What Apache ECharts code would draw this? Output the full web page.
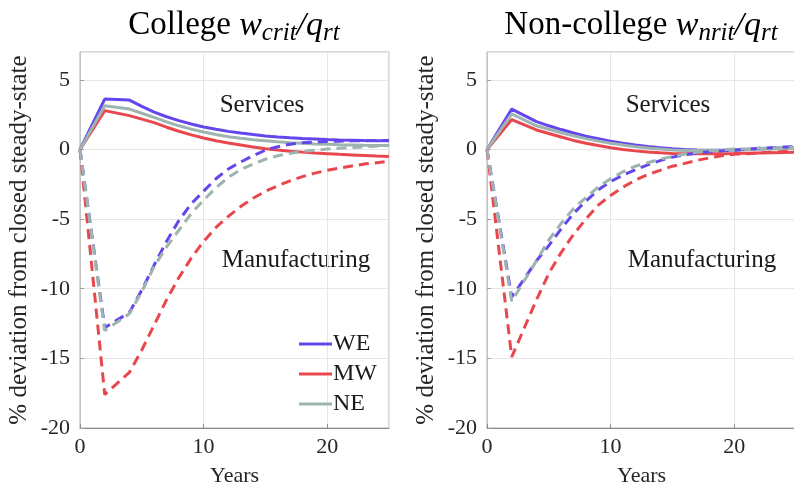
<!DOCTYPE html>
<html>
<head>
<meta charset="utf-8">
<script src="https://cdn.jsdelivr.net/npm/echarts@6/dist/echarts.min.js"></script>
<style>
  body { margin:0; background:#fff; }
  #chart { width:794px; height:487px; }
</style>
</head>
<body>
<div id="chart"></div>
<script>
  // years after opening
  var years = [0, 2, 4, 5, 6, 7, 8, 9, 10, 11, 12, 13, 14, 15, 16, 17, 18, 19, 20, 21, 22, 23, 24, 25]
  var regions = ['WE', 'MW', 'NE']

  // College w_crit/q_rt
  var colSerWE = [0, 3.62, 3.55, 3.1, 2.68, 2.35, 2.07, 1.83, 1.62, 1.45, 1.3, 1.18, 1.07, 0.97, 0.9, 0.84, 0.79, 0.75, 0.71, 0.68, 0.66, 0.64, 0.63, 0.62]
  var colSerMW = [0, 2.79, 2.43, 2.18, 1.93, 1.6, 1.31, 1.05, 0.83, 0.63, 0.46, 0.32, 0.18, 0.06, -0.04, -0.12, -0.19, -0.25, -0.3, -0.35, -0.39, -0.43, -0.47, -0.5]
  var colSerNE = [0, 3.14, 2.9, 2.6, 2.3, 1.98, 1.7, 1.46, 1.25, 1.07, 0.92, 0.8, 0.7, 0.62, 0.55, 0.49, 0.44, 0.4, 0.37, 0.34, 0.32, 0.3, 0.29, 0.28]
  var colManWE = [0, -12.8, -11.7, -10.1, -8.3, -6.6, -5.1, -3.9, -3.0, -2.1, -1.4, -0.9, -0.45, -0.05, 0.2, 0.38, 0.48, 0.54, 0.58, 0.6, 0.62, 0.63, 0.64, 0.65]
  var colManMW = [0, -17.6, -16.0, -14.4, -12.6, -10.8, -9.2, -7.8, -6.6, -5.6, -4.8, -4.1, -3.5, -3.0, -2.6, -2.25, -1.95, -1.7, -1.5, -1.33, -1.18, -1.05, -0.95, -0.85]
  var colManNE = [0, -13.0, -11.8, -10.2, -8.4, -7.0, -5.8, -4.6, -3.64, -2.75, -2.0, -1.45, -1.05, -0.7, -0.45, -0.27, -0.14, -0.05, 0.03, 0.09, 0.14, 0.19, 0.24, 0.28]

  // Non-college w_nrit/q_rt
  var ncSerWE = [0, 2.9, 2.0, 1.7, 1.43, 1.18, 0.95, 0.78, 0.6, 0.45, 0.33, 0.22, 0.13, 0.06, 0.0, -0.04, -0.06, -0.06, -0.04, 0.0, 0.04, 0.08, 0.11, 0.14]
  var ncSerMW = [0, 2.15, 1.4, 1.15, 0.9, 0.65, 0.45, 0.28, 0.12, 0.0, -0.1, -0.18, -0.24, -0.28, -0.3, -0.31, -0.31, -0.3, -0.29, -0.27, -0.25, -0.23, -0.21, -0.19]
  var ncSerNE = [0, 2.55, 1.7, 1.45, 1.2, 0.98, 0.78, 0.6, 0.45, 0.32, 0.2, 0.1, 0.03, -0.03, -0.07, -0.08, -0.08, -0.07, -0.05, -0.02, 0.01, 0.04, 0.07, 0.1]
  var ncManWE = [0, -10.6, -8.0, -6.9, -5.7, -4.6, -3.7, -2.9, -2.3, -1.85, -1.45, -1.1, -0.8, -0.55, -0.38, -0.25, -0.17, -0.1, -0.05, 0.02, 0.08, 0.13, 0.17, 0.2]
  var ncManMW = [0, -14.9, -10.8, -8.9, -7.4, -6.1, -5.0, -4.0, -3.3, -2.7, -2.2, -1.8, -1.5, -1.2, -1.0, -0.78, -0.6, -0.45, -0.35, -0.3, -0.25, -0.2, -0.15, -0.1]
  var ncManNE = [0, -10.9, -8.0, -6.5, -5.3, -4.25, -3.45, -2.7, -2.1, -1.6, -1.2, -0.95, -0.7, -0.5, -0.33, -0.2, -0.1, -0.03, 0.03, 0.05, 0.08, 0.1, 0.13, 0.15]

  var colors = { WE: '#6447ec', MW: '#e8474d', NE: '#9db4b1' }
  var serif = '"Liberation Serif", "DejaVu Serif", serif'

  function pts(arr) {
    return years.map(function (t, i) { return [t, arr[i]] })
  }

  function line(name, arr, idx, dashed) {
    return {
      name: name,
      type: 'line',
      xAxisIndex: idx,
      yAxisIndex: idx,
      data: pts(arr),
      showSymbol: false,
      silent: true,
      lineStyle: {
        color: colors[name],
        width: 3,
        type: dashed ? [10, 6] : 'solid'
      },
      itemStyle: { color: colors[name] }
    }
  }

  function xAx(idx) {
    return {
      type: 'value', gridIndex: idx, min: 0, max: 25, interval: 10,
      name: 'Years', nameLocation: 'middle', nameGap: 37,
      nameTextStyle: { fontFamily: serif, fontSize: 22, color: '#262626' },
      axisLine: { show: true, onZero: false, lineStyle: { color: '#8c8c8c' } },
      axisTick: { inside: true, length: 4, lineStyle: { color: '#8c8c8c' } },
      axisLabel: { fontFamily: serif, fontSize: 22, color: '#262626', margin: 8, showMaxLabel: false },
      splitLine: { lineStyle: { color: '#e6e6e6' } }
    }
  }

  function yAx(idx) {
    return {
      type: 'value', gridIndex: idx, min: -20, max: 7, interval: 5,
      name: '% deviation from closed steady-state', nameLocation: 'middle', nameGap: 48, nameRotate: 90,
      nameTextStyle: { fontFamily: serif, fontSize: 25, color: '#262626' },
      axisLine: { show: true, onZero: false, lineStyle: { color: '#c4c4c4' } },
      axisTick: { inside: true, length: 4, lineStyle: { color: '#a0a0a0' } },
      axisLabel: { fontFamily: serif, fontSize: 22, color: '#262626', margin: 10, showMaxLabel: false },
      splitLine: { lineStyle: { color: '#e6e6e6' } }
    }
  }

  function titleText(x, pre, sub1, sub2) {
    return {
      type: 'text', x: x, y: 9,
      style: {
        text: '{n|' + pre + ' }{m|w}{s|' + sub1 + '}{m|/q}{s|' + sub2 + '}',
        align: 'center',
        fill: '#000',
        rich: {
          n: { fontFamily: serif, fontSize: 33, lineHeight: 37, verticalAlign: 'top', fill: '#000' },
          m: { fontFamily: serif, fontStyle: 'italic', fontSize: 34, lineHeight: 37, verticalAlign: 'top', fill: '#000' },
          s: { fontFamily: serif, fontStyle: 'italic', fontSize: 25, lineHeight: 24, verticalAlign: 'bottom', fill: '#000' }
        }
      }
    }
  }

  function note(x, y, txt) {
    return {
      type: 'text', x: x, y: y,
      style: { text: txt, fontFamily: serif, fontSize: 25, fill: '#1a1a1a', align: 'center', verticalAlign: 'middle' }
    }
  }

  var myChart = echarts.init(document.getElementById('chart'))
  var option = {
    backgroundColor: '#fff',
    animation: false,
    grid: [
      { left: 80, top: 52, width: 309, height: 376, outerBoundsMode: 'none', show: true, borderColor: '#b0b0b0', borderWidth: 1 },
      { left: 487, top: 52, width: 309, height: 376, outerBoundsMode: 'none', show: true, borderColor: '#b0b0b0', borderWidth: 1 }
    ],
    legend: {
      data: regions,
      orient: 'vertical',
      left: 294, top: 327,
      icon: 'rect', itemWidth: 33, itemHeight: 3, itemGap: 6,
      textStyle: { fontFamily: serif, fontSize: 24, color: '#1a1a1a', padding: [0, 0, 0, -4] }
    },
    xAxis: [xAx(0), xAx(1)],
    yAxis: [yAx(0), yAx(1)],
    graphic: [
      titleText(234, 'College', 'crit', 'rt'),
      titleText(641, 'Non-college', 'nrit', 'rt'),
      note(262, 105, 'Services'),
      note(296, 260, 'Manufacturing'),
      note(668, 105, 'Services'),
      note(702, 260, 'Manufacturing')
    ],
    series: [
      line('WE', colSerWE, 0, false),
      line('MW', colSerMW, 0, false),
      line('NE', colSerNE, 0, false),
      line('WE', colManWE, 0, true),
      line('MW', colManMW, 0, true),
      line('NE', colManNE, 0, true),
      line('WE', ncSerWE, 1, false),
      line('MW', ncSerMW, 1, false),
      line('NE', ncSerNE, 1, false),
      line('WE', ncManWE, 1, true),
      line('MW', ncManMW, 1, true),
      line('NE', ncManNE, 1, true)
    ]
  }
  myChart.setOption(option)
  window.addEventListener('resize', function () {
    myChart.resize()
  })
</script>
</body>
</html>
